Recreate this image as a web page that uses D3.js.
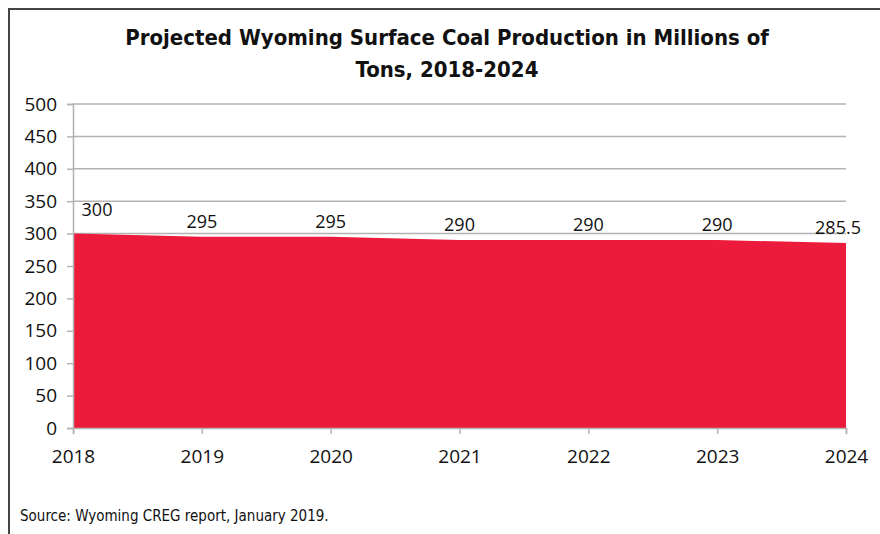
<!DOCTYPE html>
<html>
<head>
<meta charset="utf-8">
<script src="https://cdn.jsdelivr.net/npm/d3@7"></script>
<style>
  body { margin: 0; background: #fff; }
  text { font-family: "Open Sans", "Noto Sans", sans-serif; fill: #111; }
</style>
</head>
<body>
<div id="chart"></div>
<script>
// data
var years = [2018, 2019, 2020, 2021, 2022, 2023, 2024];
var production = [300, 295, 295, 290, 290, 290, 285.5];
var yTicks = [0, 50, 100, 150, 200, 250, 300, 350, 400, 450, 500];

var W = 880, H = 534;
var margin = {top: 104, right: 34, bottom: 106, left: 73},
    width = W - margin.left - margin.right,
    height = H - margin.top - margin.bottom;

var svg = d3.select("#chart")
  .append("svg")
    .attr("width", W)
    .attr("height", H);

// frame lines (left and top only)
svg.append("path")
  .attr("d", "M9,534 L9,9 L880,9")
  .attr("fill", "none")
  .attr("stroke", "#444")
  .attr("stroke-width", 2);

// title
var title = svg.append("text")
  .attr("text-anchor", "middle")
  .style("font-family", "'DejaVu Sans Condensed', 'DejaVu Sans', sans-serif")
  .style("font-weight", "bold")
  .style("font-size", "22px");
title.append("tspan").attr("x", 447).attr("y", 45).text("Projected Wyoming Surface Coal Production in Millions of");
title.append("tspan").attr("x", 447).attr("y", 77).text("Tons, 2018-2024");

var g = svg.append("g")
  .attr("transform", "translate(" + margin.left + "," + margin.top + ")");

var x = d3.scalePoint()
  .domain(years)
  .range([0, width]);

var y = d3.scaleLinear()
  .domain([0, 500])
  .range([height, 0]);

// gridlines
g.append("g")
  .selectAll("line")
  .data(yTicks.filter(function(d) { return d > 0; }))
  .enter()
  .append("line")
    .attr("x1", 0)
    .attr("x2", width)
    .attr("y1", function(d) { return y(d); })
    .attr("y2", function(d) { return y(d); })
    .attr("stroke", "#b3b3b3")
    .attr("stroke-width", 1.5);

// area
var area = d3.area()
  .x(function(d, i) { return x(years[i]); })
  .y0(y(0))
  .y1(function(d) { return y(d); });

g.append("path")
  .datum(production)
  .attr("fill", "#ed1b3b")
  .attr("d", area);

// axes
var yAxis = g.append("g")
  .call(d3.axisLeft(y).tickValues(yTicks).tickSize(6).tickPadding(8));
var xAxis = g.append("g")
  .attr("transform", "translate(0," + height + ")")
  .call(d3.axisBottom(x).tickSize(6).tickPadding(12));

[yAxis, xAxis].forEach(function(ax) {
  ax.select(".domain").attr("stroke", "#b3b3b3").attr("stroke-width", 1.5);
  ax.selectAll(".tick line").attr("stroke", "#b3b3b3").attr("stroke-width", 1.5);
  ax.selectAll(".tick text")
    .style("font-family", "'Open Sans', sans-serif")
    .style("font-size", "19px")
    .attr("fill", "#111");
});
xAxis.selectAll(".tick text").attr("dy", "0.9em");
yAxis.selectAll(".tick text").attr("dx", "-2");

// data labels
g.append("g")
  .selectAll("text")
  .data(production)
  .enter()
  .append("text")
    .attr("x", function(d, i) {
      var px = x(years[i]);
      if (i === 0) return px + 24;
      if (i === production.length - 1) return px - 8;
      return px;
    })
    .attr("y", function(d, i) { return i === 0 ? y(d) - 18 : y(d) - 9; })
    .attr("text-anchor", "middle")
    .style("font-size", "18px")
    .text(function(d) { return d; });

// source note
svg.append("text")
  .attr("x", 20)
  .attr("y", 521)
  .style("font-family", "'DejaVu Sans Condensed', sans-serif")
  .style("font-size", "15px")
  .text("Source: Wyoming CREG report, January 2019.");
</script>
</body>
</html>
